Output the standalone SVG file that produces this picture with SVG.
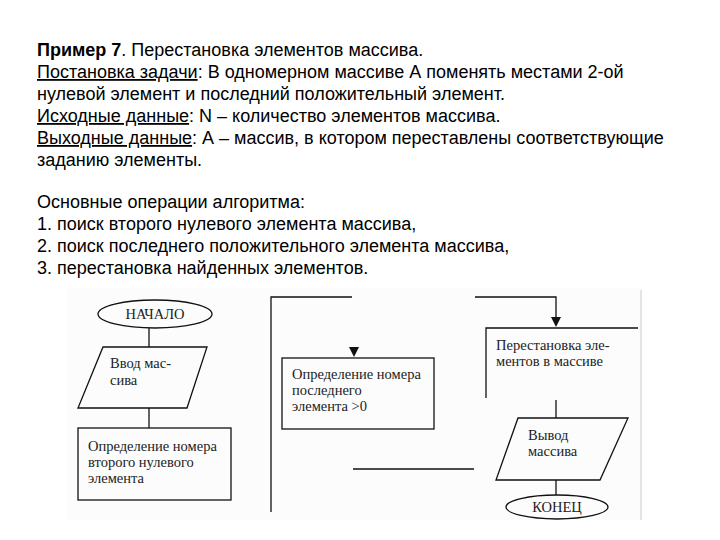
<svg xmlns="http://www.w3.org/2000/svg" width="720" height="540" viewBox="0 0 720 540">
<style>
.t{font-family:"Liberation Sans",Arial,sans-serif;font-size:18px;fill:#000}
.f{font-family:"Liberation Serif","Times New Roman",serif;font-size:14.5px;fill:#222}
.s{fill:none;stroke:#111;stroke-width:1.3}
.a{fill:#111}
</style>
<rect width="720" height="540" fill="#fff"/>
<g id="header">
<text class="t" x="37" y="56"><tspan font-weight="bold">Пример 7</tspan>. Перестановка элементов массива.</text>
<text class="t" x="37" y="78"><tspan text-decoration="underline">Постановка задачи</tspan>: В одномерном массиве А поменять местами 2-ой</text>
<text class="t" x="37" y="100">нулевой элемент и последний положительный элемент.</text>
<text class="t" x="37" y="122"><tspan text-decoration="underline">Исходные данные</tspan>: N – количество элементов массива.</text>
<text class="t" x="37" y="144"><tspan text-decoration="underline">Выходные данные</tspan>: А – массив, в котором переставлены соответствующие</text>
<text class="t" x="37" y="166">заданию элементы.</text>
<text class="t" x="37" y="208">Основные операции алгоритма:</text>
<text class="t" x="37" y="230">1. поиск второго нулевого элемента массива,</text>
<text class="t" x="37" y="252">2. поиск последнего положительного элемента массива,</text>
<text class="t" x="37" y="274">3. перестановка найденных элементов.</text>
</g>
<rect x="66" y="288" width="576" height="232" fill="#fcfcfc"/>
<line x1="641" y1="290" x2="641" y2="520" stroke="#ccc" stroke-width="1"/>
<g id="connectors">
<line class="s" x1="149" y1="328" x2="149" y2="347"/>
<line class="s" x1="149" y1="408" x2="149" y2="428"/>
<polyline class="s" points="271,512 271,297 352,297"/>
<polygon class="a" points="349,347 359,347 354,357"/>
<line class="s" x1="353" y1="469" x2="474" y2="469"/>
<polyline class="s" points="475,297 556,297 556,318"/>
<polygon class="a" points="551,317 561,317 556,327"/>
<line class="s" x1="556" y1="400" x2="556" y2="418"/>
<line class="s" x1="556" y1="480" x2="556" y2="495"/>
</g>
<g id="start"><ellipse class="s" cx="155" cy="314" rx="57" ry="14"/><text class="f" x="155" y="319" text-anchor="middle">НАЧАЛО</text></g>
<g id="input"><polygon class="s" points="103,347 207,347 187,408 78,408"/><text class="f" x="110" y="368">Ввод мас-</text><text class="f" x="110" y="385">сива</text></g>
<g id="find-zero"><rect class="s" x="78" y="428" width="153" height="72"/><text class="f" x="88" y="451">Определение номера</text><text class="f" x="88" y="467">второго нулевого</text><text class="f" x="88" y="483">элемента</text></g>
<g id="find-pos"><rect class="s" x="282" y="358" width="152" height="71"/><text class="f" x="292" y="379">Определение номера</text><text class="f" x="292" y="395">последнего</text><text class="f" x="292" y="411">элемента &gt;0</text></g>
<g id="swap"><polyline class="s" points="486,398 486,328 638,328"/><text class="f" x="496" y="350">Перестановка эле-</text><text class="f" x="496" y="366">ментов в массиве</text></g>
<g id="output"><polygon class="s" points="518,418 628,418 600,480 496,480"/><text class="f" x="528" y="440">Вывод</text><text class="f" x="528" y="456">массива</text></g>
<g id="end"><ellipse class="s" cx="557" cy="507" rx="51" ry="12"/><text class="f" x="557" y="512" text-anchor="middle">КОНЕЦ</text></g>
</svg>
